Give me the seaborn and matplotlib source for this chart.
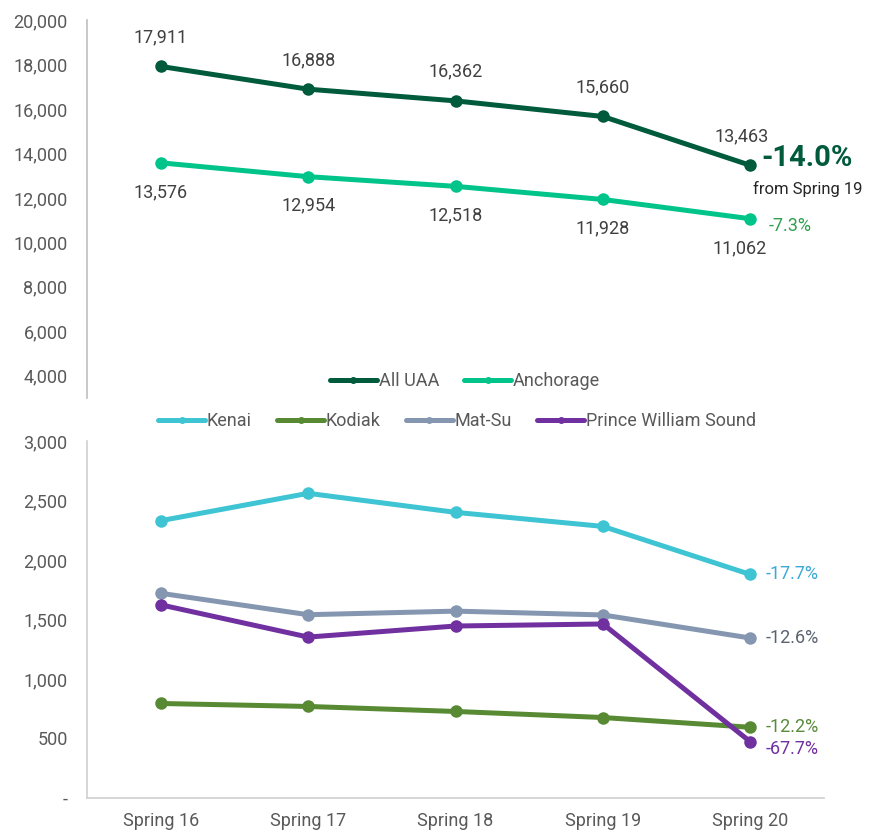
import pandas as pd
import matplotlib.pyplot as plt
from matplotlib.lines import Line2D
import seaborn as sns

terms = ["Spring 16", "Spring 17", "Spring 18", "Spring 19", "Spring 20"]

all_uaa = [17911, 16888, 16362, 15660, 13463]
anchorage = [13576, 12954, 12518, 11928, 11062]

kenai = [2330, 2560, 2400, 2282, 1878]
kodiak = [794, 769, 727, 676, 594]
matsu = [1720, 1540, 1570, 1538, 1344]
pws = [1623, 1352, 1445, 1462, 472]

top_names = ["All UAA", "Anchorage"]
bot_names = ["Kenai", "Kodiak", "Mat-Su", "Prince William Sound"]
top_colors = ["#005a3c", "#00c48a"]
bot_colors = ["#3ec4d3", "#578a33", "#8597b0", "#7030a0"]

bot_pct = ["-17.7%", "-12.2%", "-12.6%", "-67.7%"]
bot_pct_colors = ["#3aa9d6", "#5a8a3a", "#5b6370", "#7030a0"]

gray = "#595959"

sns.set_theme(style="white")
plt.rcParams["font.family"] = ["Roboto", "DejaVu Sans"]

top = pd.DataFrame({"term": terms * 2,
                    "value": all_uaa + anchorage,
                    "campus": [n for n in top_names for _ in terms]})
bot = pd.DataFrame({"term": terms * 4,
                    "value": kenai + kodiak + matsu + pws,
                    "campus": [n for n in bot_names for _ in terms]})

fig = plt.figure(figsize=(8.79, 8.32), dpi=100)
ax1 = fig.add_axes([0.099, 0.5216, 0.8385, 0.4544])
ax2 = fig.add_axes([0.099, 0.0409, 0.8385, 0.4291])

sns.lineplot(data=top, x="term", y="value", hue="campus", palette=top_colors,
             marker="o", markersize=9, markeredgewidth=0, linewidth=3.6,
             sort=False, legend=False, ax=ax1)
sns.lineplot(data=bot, x="term", y="value", hue="campus", palette=bot_colors,
             marker="o", markersize=9, markeredgewidth=0, linewidth=3.6,
             sort=False, legend=False, ax=ax2)

# top panel
ax1.set_xlim(-0.5, 4.5)
ax1.set_ylim(3000, 20000)
ax1.set_yticks(range(4000, 20001, 2000))
ax1.set_yticklabels([f"{v:,}" for v in range(4000, 20001, 2000)])
ax1.set_xticks([])
ax1.set_xlabel("")
ax1.set_ylabel("")
for s in ["top", "right", "bottom"]:
    ax1.spines[s].set_visible(False)
ax1.spines["left"].set_color("#bfbfbf")
ax1.spines["left"].set_linewidth(1.2)
ax1.tick_params(axis="y", labelsize=13, colors=gray, length=0, pad=14)

for i, v in enumerate(all_uaa):
    dx = -6 if i == 4 else 0
    ax1.annotate(f"{v:,}", (i, v), xytext=(dx, 21), textcoords="offset points",
                 ha="center", va="center", fontsize=13, color="#404040")
for i, v in enumerate(anchorage):
    dx = -8 if i == 4 else 0
    ax1.annotate(f"{v:,}", (i, v), xytext=(dx, -21), textcoords="offset points",
                 ha="center", va="center", fontsize=13, color="#404040")

ax1.annotate("-14.0%", (4, all_uaa[4]), xytext=(8, 5), textcoords="offset points",
             ha="left", va="center", fontsize=21, fontweight="bold", color="#005a3c")
ax1.annotate("from Spring 19", (4, all_uaa[4]), xytext=(2, -17), textcoords="offset points",
             ha="left", va="center", fontsize=12, color="#262626")
ax1.annotate("-7.3%", (4, anchorage[4]), xytext=(13, -5), textcoords="offset points",
             ha="left", va="center", fontsize=13, color="#2ea050")

# bottom panel
ax2.set_xlim(-0.5, 4.5)
ax2.set_ylim(0, 3000)
ax2.set_yticks(range(0, 3001, 500))
ax2.set_yticklabels(["-"] + [f"{v:,}" for v in range(500, 3001, 500)])
ax2.set_xlabel("")
ax2.set_ylabel("")
for s in ["top", "right"]:
    ax2.spines[s].set_visible(False)
for s in ["left", "bottom"]:
    ax2.spines[s].set_color("#d0d0d0")
    ax2.spines[s].set_linewidth(1.2)
ax2.tick_params(axis="y", labelsize=13, colors=gray, length=0, pad=14)
ax2.tick_params(axis="x", labelsize=13, colors=gray, length=0, pad=10)

series = [kenai, kodiak, matsu, pws]
pct_dy = [0, 0, 0, -5]
for vals, txt, c, dy in zip(series, bot_pct, bot_pct_colors, pct_dy):
    ax2.annotate(txt, (4, vals[4]), xytext=(11, dy), textcoords="offset points",
                 ha="left", va="center", fontsize=13, color=c)

# legends
def handles(names, colors):
    return [Line2D([0], [0], color=c, lw=3.6, marker="o", markersize=4,
                   solid_capstyle="round", label=n) for n, c in zip(names, colors)]

fig.legend(handles=handles(top_names, top_colors), loc="center",
           bbox_to_anchor=(0.529, 0.542), ncol=2, frameon=False, fontsize=13,
           labelcolor=gray, handlelength=2.6, handletextpad=0.1, columnspacing=1.4)
fig.legend(handles=handles(bot_names, bot_colors), loc="center",
           bbox_to_anchor=(0.52, 0.494), ncol=4, frameon=False, fontsize=13,
           labelcolor=gray, handlelength=2.6, handletextpad=0.1, columnspacing=1.4)

plt.savefig("out.png", dpi=100)
